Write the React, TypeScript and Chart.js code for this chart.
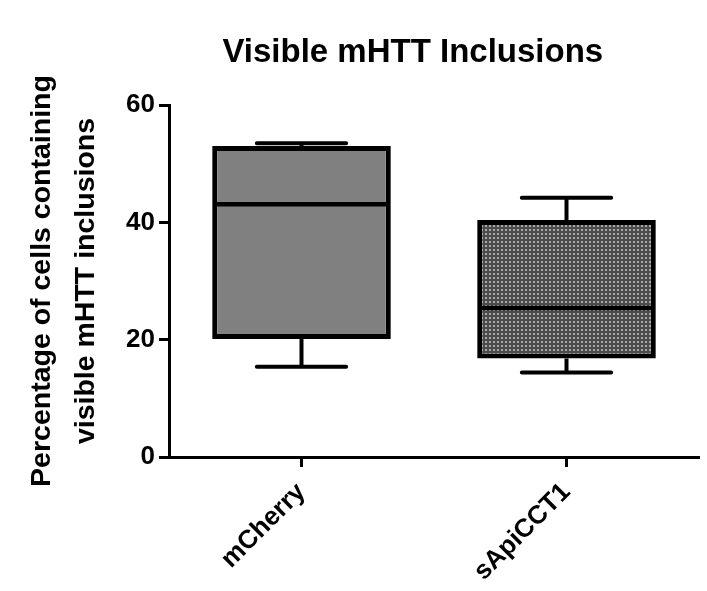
import React, { useEffect, useRef } from "react";
import { Chart, registerables } from "chart.js";

Chart.register(...registerables);

const TITLE = "Visible mHTT Inclusions";
const Y_TITLE = ["Percentage of cells containing", "visible mHTT inclusions"];
const CATEGORIES = ["mCherry", "sApiCCT1"];
const MINS = [15.4, 14.4];
const Q1S = [20.1, 16.8];
const MEDIANS = [43.1, 25.4];
const Q3S = [53.0, 40.4];
const MAXS = [53.5, 44.2];
const Y_MIN = 0;
const Y_MAX = 60;
const Y_STEP = 20;

const FONT = "Arial, 'Liberation Sans', sans-serif";

function makePattern(): CanvasPattern | string {
  const c = document.createElement("canvas");
  c.width = 4;
  c.height = 4;
  const g = c.getContext("2d");
  if (!g) return "#666666";
  g.fillStyle = "#4c4c4c";
  g.fillRect(0, 0, 4, 4);
  g.fillStyle = "#a8a8a8";
  g.fillRect(1, 1, 2, 2);
  const p = g.createPattern(c, "repeat");
  return p || "#666666";
}

const boxPlugin = {
  id: "boxExtras",
  afterDatasetsDraw(chart: any) {
    const { ctx } = chart;
    const meta = chart.getDatasetMeta(0);
    const y = chart.scales.y;
    ctx.save();
    ctx.strokeStyle = "#000";
    ctx.lineCap = "butt";
    meta.data.forEach((bar: any, i: number) => {
      const x = bar.x;
      const half = bar.width / 2;
      const capHalf = half * 0.5;
      const yMin = y.getPixelForValue(MINS[i]);
      const yQ1 = y.getPixelForValue(Q1S[i]);
      const yMed = y.getPixelForValue(MEDIANS[i]);
      const yQ3 = y.getPixelForValue(Q3S[i]);
      const yMax = y.getPixelForValue(MAXS[i]);
      // median
      ctx.lineWidth = 4.5;
      ctx.beginPath();
      ctx.moveTo(x - half + 2, yMed);
      ctx.lineTo(x + half - 2, yMed);
      ctx.stroke();
      // whiskers
      ctx.lineWidth = 4;
      ctx.beginPath();
      ctx.moveTo(x, yQ1);
      ctx.lineTo(x, yMin);
      ctx.moveTo(x, yQ3);
      ctx.lineTo(x, yMax);
      ctx.stroke();
      ctx.lineCap = "round";
      ctx.beginPath();
      ctx.moveTo(x - capHalf, yMin);
      ctx.lineTo(x + capHalf, yMin);
      ctx.moveTo(x - capHalf, yMax);
      ctx.lineTo(x + capHalf, yMax);
      ctx.stroke();
      ctx.lineCap = "butt";
    });
    ctx.restore();
  },
};

const titlePlugin = {
  id: "customTitle",
  afterDraw(chart: any) {
    const { ctx, chartArea } = chart;
    ctx.save();
    ctx.fillStyle = "#000";
    ctx.font = `bold 33px ${FONT}`;
    ctx.textAlign = "center";
    ctx.textBaseline = "middle";
    ctx.fillText(TITLE, chartArea.left + chartArea.width * 0.46, chartArea.top - 52);
    ctx.restore();
  },
};

export default function App() {
  const ref = useRef<HTMLCanvasElement | null>(null);
  useEffect(() => {
    if (!ref.current) return;
    const pattern = makePattern();
    const chart = new Chart(ref.current, {
      type: "bar",
      data: {
        labels: CATEGORIES,
        datasets: [
          {
            data: CATEGORIES.map((_, i) => [Q1S[i], Q3S[i]]) as any,
            backgroundColor: ["#808080", pattern] as any,
            borderColor: "#000",
            borderWidth: 5,
            borderSkipped: false,
            categoryPercentage: 1,
            barPercentage: 0.674,
          },
        ],
      },
      options: {
        responsive: false,
        animation: false,
        layout: { padding: { top: 105, right: 8, left: 0, bottom: 0 } },
        plugins: {
          legend: { display: false },
          title: { display: false },
          tooltip: { enabled: false },
        },
        scales: {
          x: {
            type: "category",
            offset: true,
            afterFit(scale: any) {
              scale.height = 134;
            },
            grid: {
              display: true,
              offset: false,
              drawOnChartArea: false,
              drawTicks: true,
              tickLength: 10,
              tickWidth: 3,
              tickColor: "#000",
            },
            border: { display: true, width: 3, color: "#000" },
            ticks: {
              color: "#000",
              font: { family: FONT, size: 26, weight: "bold" },
              maxRotation: 45,
              minRotation: 45,
              padding: 10,
            },
          },
          y: {
            min: Y_MIN,
            max: Y_MAX,
            afterFit(scale: any) {
              scale.width = 169;
            },
            grid: {
              display: true,
              drawOnChartArea: false,
              drawTicks: true,
              tickLength: 10,
              tickWidth: 3,
              tickColor: "#000",
            },
            border: { display: true, width: 3, color: "#000" },
            ticks: {
              stepSize: Y_STEP,
              color: "#000",
              font: { family: FONT, size: 26, weight: "bold" },
              padding: 4,
            },
            title: {
              display: true,
              text: Y_TITLE,
              color: "#000",
              font: { family: FONT, size: 28.5, weight: "bold", lineHeight: 1.55 },
              padding: { top: 20, bottom: 0 },
            },
          },
        },
      },
      plugins: [boxPlugin, titlePlugin],
    });
    return () => chart.destroy();
  }, []);
  return (
    <div style={{ position: "fixed", left: 0, top: 0, width: 707, height: 591, background: "#fff" }}>
      <canvas ref={ref} width={707} height={591} />
    </div>
  );
}
